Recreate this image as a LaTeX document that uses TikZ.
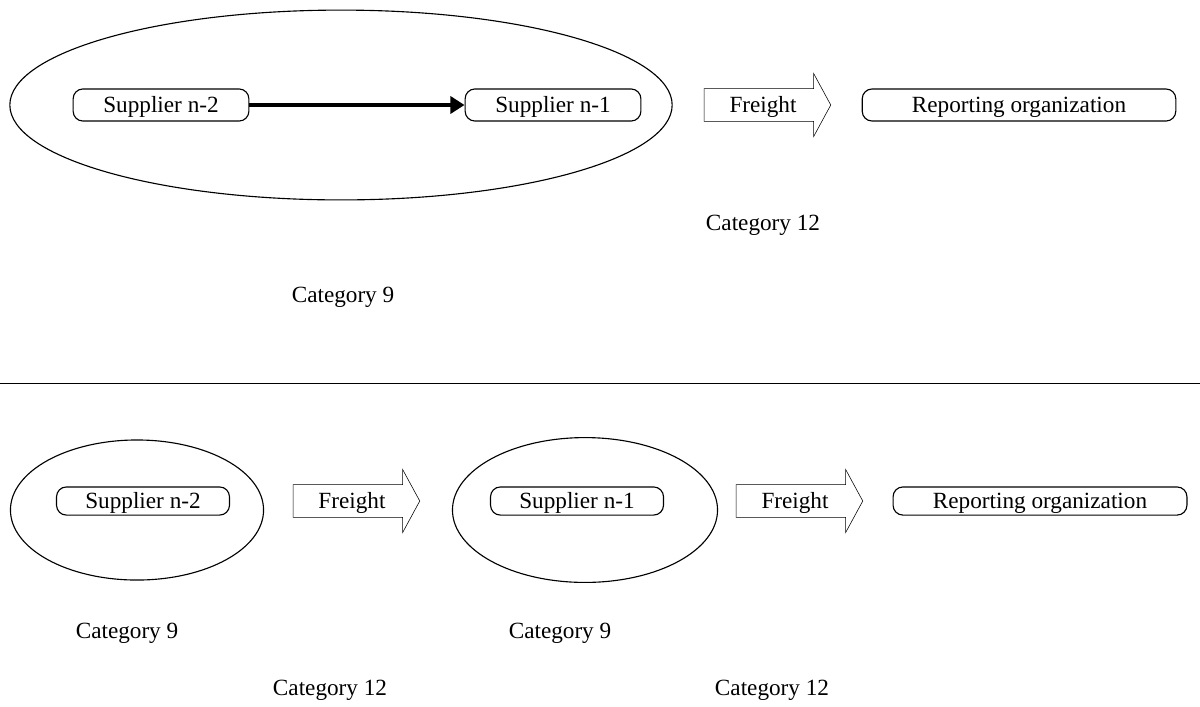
\documentclass[tikz,border=0pt]{standalone}
\usepackage{fontspec}
\setmainfont{Liberation Serif}
\usetikzlibrary{arrows.meta,positioning,shapes.geometric,shapes.arrows}

\begin{document}
\begin{tikzpicture}[
  x=0.025cm,y=-0.025cm,
  every node/.style={font=\fontsize{16.5}{20}\selectfont,align=center},
  party/.style={draw,thick,rounded corners=7pt,minimum width=125pt,minimum height=22.8pt,inner sep=0pt,
    text height=12.5pt,text depth=2pt},
  partysmall/.style={party,minimum width=123pt,minimum height=20pt},
  scopering/.style={draw,thick,ellipse,inner sep=0pt},
  freight/.style={draw,single arrow,minimum height=90pt,single arrow head extend=10.7pt,
    single arrow tip angle=123,inner xsep=6pt,text height=13pt,text depth=2pt,inner ysep=4pt},
  flow/.style={-{Triangle[length=10pt,width=12pt]},line width=2.8pt},
  cat/.style={}
]
\useasboundingbox (0,0) rectangle (1200,706);

% upstream: both suppliers in one scope
\node[scopering,minimum width=471pt,minimum height=135pt] (ringtop) at (341,105) {};
\node[party] (suppA) at (161,105) {Supplier n-2};
\node[party] (suppB) at (553,105) {Supplier n-1};
\draw[flow] (suppA) -- (suppB);
\node[freight] (frtop) at (763,105) {Freight};
\node[party,minimum width=223pt] (repA) at (1019,105) {Reporting organization};
\node[cat] (c12top) at (763,225) {Category 12};
\node[cat] (c9top) at (343,297) {Category 9};

% separator
\coordinate (sepL) at (0,383);
\coordinate (sepR) at (1200,383);
\draw (sepL) -- (sepR);

% downstream: one scope per supplier
\node[scopering,minimum width=180pt,minimum height=99.6pt] (ringA) at (137,510) {};
\node[partysmall] (suppC) at (143,501) {Supplier n-2};
\node[freight] (frA) at (352,501) {Freight};
\node[scopering,minimum width=188.5pt,minimum height=103pt] (ringB) at (585,510) {};
\node[partysmall] (suppD) at (577,501) {Supplier n-1};
\node[freight] (frB) at (795,501) {Freight};
\node[partysmall,minimum width=209pt] (repB) at (1040,501) {Reporting organization};
\node[cat] (c9a) at (127,633) {Category 9};
\node[cat] (c9b) at (560,633) {Category 9};
\node[cat] (c12a) at (330,690) {Category 12};
\node[cat] (c12b) at (772,690) {Category 12};
\end{tikzpicture}
\end{document}
